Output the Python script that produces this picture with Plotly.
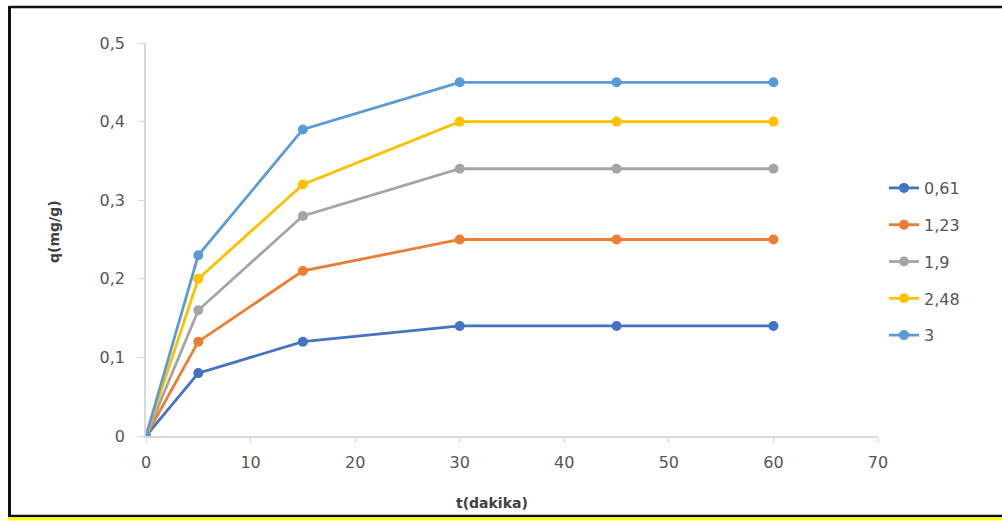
import plotly.graph_objects as go

# Contact time (min) and adsorbed amount q (mg/g) for each initial concentration
time_min = [0, 5, 15, 30, 45, 60]
series_names = ["0,61", "1,23", "1,9", "2,48", "3"]
q_061 = [0, 0.08, 0.12, 0.14, 0.14, 0.14]
q_123 = [0, 0.12, 0.21, 0.25, 0.25, 0.25]
q_19 = [0, 0.16, 0.28, 0.34, 0.34, 0.34]
q_248 = [0, 0.20, 0.32, 0.40, 0.40, 0.40]
q_3 = [0, 0.23, 0.39, 0.45, 0.45, 0.45]
series_values = [q_061, q_123, q_19, q_248, q_3]
colors = ["#4472C4", "#ED7D31", "#A5A5A5", "#FFC000", "#5B9BD5"]

W, H = 1002, 521
L, R, T, B = 146, 878, 43, 436  # plot-area pixel edges


def px_x(px):
    return (px - L) / (R - L)


def px_y(py):
    return (B - py) / (B - T)


fig = go.Figure()
for name, vals, col in zip(series_names, series_values, colors):
    fig.add_trace(go.Scatter(
        x=time_min, y=vals, name=name, legendgroup=name,
        mode="lines+markers",
        line=dict(color=col, width=2.8),
        marker=dict(color=col, size=10),
    ))

tick_font = dict(family="DejaVu Sans", size=16, color="#555555")
axis_col = "#D9D9D9"

fig.update_xaxes(
    range=[0, 70], tickvals=[0, 10, 20, 30, 40, 50, 60, 70],
    showgrid=False, zeroline=False, showline=True, linecolor=axis_col, linewidth=1.5,
    ticks="outside", ticklen=5, tickcolor=axis_col, tickfont=tick_font,
    ticklabelstandoff=6,
)
fig.update_yaxes(
    range=[0, 0.5], tickvals=[0, 0.1, 0.2, 0.3, 0.4, 0.5],
    showgrid=False, zeroline=False, showline=True, linecolor=axis_col, linewidth=1.5,
    ticks="outside", ticklen=6, tickcolor=axis_col, tickfont=tick_font,
    ticklabelstandoff=10,
)

title_font = dict(family="DejaVu Sans", size=14, color="#404040", weight="bold")
annotations = [
    dict(text="t(dakika)", xref="paper", yref="paper", x=px_x(492), y=px_y(503),
         showarrow=False, font=title_font, xanchor="center", yanchor="middle"),
    dict(text="q(mg/g)", xref="paper", yref="paper", x=px_x(54), y=px_y(232),
         showarrow=False, font=title_font, textangle=-90, xanchor="center", yanchor="middle"),
]

# Frame lines around the chart
shapes = [
    dict(type="line", xref="paper", yref="paper", x0=px_x(9.5), x1=px_x(W + 5),
         y0=px_y(7), y1=px_y(7), line=dict(color="#111111", width=2.5)),
    dict(type="line", xref="paper", yref="paper", x0=px_x(9.5), x1=px_x(9.5),
         y0=px_y(6), y1=px_y(517), line=dict(color="#111111", width=3)),
    dict(type="line", xref="paper", yref="paper", x0=px_x(8), x1=px_x(W + 5),
         y0=px_y(516), y1=px_y(516), line=dict(color="#111111", width=2.5)),
    dict(type="line", xref="paper", yref="paper", x0=px_x(8), x1=px_x(W + 5),
         y0=px_y(519), y1=px_y(519), line=dict(color="#FFFF00", width=3)),
]

fig.update_layout(
    width=W, height=H,
    margin=dict(l=L, r=W - R, t=T, b=H - B, pad=0),
    paper_bgcolor="white", plot_bgcolor="white",
    separators=", ",
    showlegend=True,
    legend=dict(
        x=px_x(884), y=px_y(171), xanchor="left", yanchor="top",
        font=dict(family="DejaVu Sans", size=16, color="#555555"),
        tracegroupgap=13, bgcolor="rgba(0,0,0,0)",
    ),
    annotations=annotations,
    shapes=shapes,
)

fig.write_html("out.html")
